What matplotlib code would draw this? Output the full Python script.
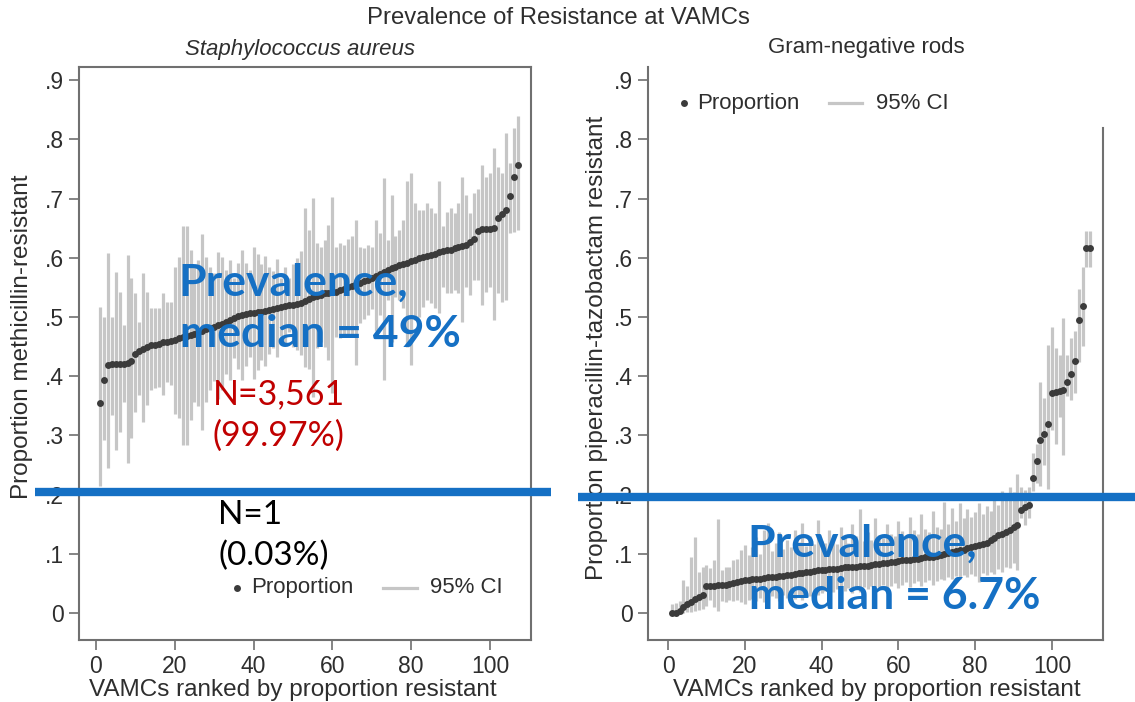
import numpy as np
import matplotlib
matplotlib.use("Agg")
import matplotlib.pyplot as plt
from matplotlib.lines import Line2D

# ---------------------------------------------------------------------------
# Data: VAMC-level proportion resistant with 95% confidence intervals,
# ranked from lowest to highest within each organism group.
# ---------------------------------------------------------------------------
staph_prop = [
    0.355, 0.393, 0.419, 0.420, 0.420, 0.421, 0.421, 0.422, 0.425, 0.438,
    0.443, 0.446, 0.449, 0.452, 0.453, 0.455, 0.457, 0.458, 0.459, 0.461,
    0.464, 0.466, 0.468, 0.470, 0.472, 0.474, 0.476, 0.479, 0.481, 0.483,
    0.486, 0.489, 0.492, 0.495, 0.498, 0.502, 0.504, 0.505, 0.506, 0.507,
    0.508, 0.509, 0.510, 0.511, 0.513, 0.515, 0.517, 0.519, 0.520, 0.521,
    0.522, 0.524, 0.527, 0.530, 0.533, 0.536, 0.538, 0.540, 0.541, 0.542,
    0.543, 0.545, 0.547, 0.550, 0.553, 0.556, 0.558, 0.561, 0.563, 0.566,
    0.570, 0.573, 0.576, 0.579, 0.582, 0.585, 0.588, 0.590, 0.592, 0.594,
    0.597, 0.599, 0.601, 0.603, 0.605, 0.607, 0.609, 0.611, 0.613, 0.614,
    0.616, 0.618, 0.620, 0.622, 0.626, 0.632, 0.646, 0.648, 0.648, 0.649,
    0.650, 0.668, 0.674, 0.680, 0.704, 0.737, 0.756,
]
staph_lo = [
    0.215, 0.292, 0.245, 0.334, 0.275, 0.306, 0.357, 0.253, 0.296, 0.340,
    0.368, 0.323, 0.351, 0.377, 0.380, 0.382, 0.368, 0.390, 0.385, 0.336,
    0.329, 0.284, 0.284, 0.326, 0.356, 0.350, 0.309, 0.356, 0.377, 0.392,
    0.362, 0.376, 0.404, 0.394, 0.430, 0.413, 0.394, 0.418, 0.433, 0.396,
    0.410, 0.428, 0.417, 0.437, 0.448, 0.432, 0.468, 0.453, 0.474, 0.450,
    0.444, 0.436, 0.416, 0.413, 0.365, 0.447, 0.457, 0.450, 0.427, 0.371,
    0.467, 0.465, 0.472, 0.468, 0.470, 0.419, 0.490, 0.496, 0.504, 0.513,
    0.476, 0.504, 0.394, 0.528, 0.458, 0.534, 0.529, 0.516, 0.450, 0.419,
    0.495, 0.500, 0.517, 0.529, 0.523, 0.515, 0.507, 0.551, 0.540, 0.540,
    0.546, 0.540, 0.492, 0.551, 0.537, 0.562, 0.562, 0.520, 0.543, 0.551,
    0.495, 0.540, 0.526, 0.529, 0.642, 0.644, 0.647,
]
staph_hi = [
    0.517, 0.500, 0.608, 0.500, 0.576, 0.543, 0.486, 0.605, 0.566, 0.540,
    0.492, 0.574, 0.543, 0.515, 0.515, 0.515, 0.540, 0.526, 0.526, 0.584,
    0.602, 0.654, 0.654, 0.613, 0.588, 0.597, 0.641, 0.602, 0.585, 0.574,
    0.610, 0.602, 0.580, 0.596, 0.566, 0.591, 0.614, 0.592, 0.579, 0.618,
    0.606, 0.590, 0.603, 0.585, 0.578, 0.598, 0.566, 0.585, 0.566, 0.590,
    0.600, 0.612, 0.684, 0.647, 0.701, 0.625, 0.619, 0.630, 0.655, 0.703,
    0.619, 0.625, 0.622, 0.632, 0.636, 0.664, 0.619, 0.616, 0.622, 0.619,
    0.664, 0.642, 0.735, 0.630, 0.706, 0.636, 0.647, 0.664, 0.729, 0.743,
    0.692, 0.680, 0.681, 0.692, 0.684, 0.675, 0.729, 0.653, 0.678, 0.684,
    0.675, 0.692, 0.736, 0.706, 0.675, 0.709, 0.717, 0.757, 0.737, 0.743,
    0.785, 0.754, 0.743, 0.810, 0.760, 0.819, 0.840,
]

gnr_prop = [
    0.000, 0.000, 0.003, 0.010, 0.015, 0.019, 0.023, 0.027, 0.031, 0.045,
    0.046, 0.046, 0.047, 0.047, 0.047, 0.049, 0.051, 0.053, 0.054, 0.055,
    0.056, 0.057, 0.057, 0.058, 0.059, 0.060, 0.060, 0.061, 0.062, 0.063,
    0.064, 0.065, 0.066, 0.067, 0.068, 0.069, 0.070, 0.071, 0.072, 0.072,
    0.073, 0.074, 0.075, 0.075, 0.076, 0.077, 0.077, 0.078, 0.078, 0.079,
    0.080, 0.080, 0.081, 0.082, 0.083, 0.084, 0.085, 0.086, 0.087, 0.088,
    0.089, 0.089, 0.090, 0.091, 0.092, 0.093, 0.094, 0.094, 0.095, 0.096,
    0.098, 0.100, 0.101, 0.103, 0.104, 0.106, 0.107, 0.109, 0.111, 0.113,
    0.115, 0.117, 0.119, 0.123, 0.127, 0.131, 0.134, 0.137, 0.141, 0.145,
    0.149, 0.174, 0.179, 0.183, 0.228, 0.256, 0.292, 0.302, 0.320, 0.371,
    0.373, 0.375, 0.376, 0.391, 0.404, 0.426, 0.495, 0.519, 0.617, 0.617,
]
gnr_lo = [
    0.000, 0.000, 0.000, 0.000, 0.001, 0.002, 0.003, 0.005, 0.006, 0.012,
    0.022, 0.010, 0.004, 0.020, 0.018, 0.022, 0.020, 0.022, 0.018, 0.016,
    0.022, 0.024, 0.020, 0.026, 0.018, 0.022, 0.028, 0.025, 0.020, 0.030,
    0.026, 0.032, 0.024, 0.030, 0.022, 0.034, 0.028, 0.036, 0.030, 0.034,
    0.038, 0.030, 0.036, 0.040, 0.032, 0.038, 0.042, 0.034, 0.040, 0.036,
    0.044, 0.040, 0.046, 0.036, 0.044, 0.048, 0.040, 0.046, 0.050, 0.042,
    0.048, 0.052, 0.044, 0.050, 0.054, 0.046, 0.052, 0.056, 0.048, 0.054,
    0.058, 0.056, 0.060, 0.057, 0.062, 0.058, 0.064, 0.060, 0.066, 0.062,
    0.052, 0.068, 0.064, 0.070, 0.066, 0.074, 0.069, 0.078, 0.076, 0.084,
    0.072, 0.160, 0.148, 0.160, 0.206, 0.220, 0.215, 0.250, 0.209, 0.309,
    0.285, 0.331, 0.267, 0.366, 0.360, 0.372, 0.424, 0.451, 0.584, 0.584,
]
gnr_hi = [
    0.016, 0.017, 0.020, 0.056, 0.045, 0.095, 0.129, 0.070, 0.078, 0.081,
    0.076, 0.089, 0.158, 0.073, 0.078, 0.078, 0.089, 0.092, 0.106, 0.115,
    0.098, 0.112, 0.128, 0.100, 0.140, 0.152, 0.104, 0.118, 0.137, 0.108,
    0.124, 0.112, 0.140, 0.120, 0.152, 0.114, 0.130, 0.116, 0.157, 0.122,
    0.118, 0.140, 0.128, 0.116, 0.146, 0.126, 0.118, 0.150, 0.130, 0.175,
    0.122, 0.136, 0.124, 0.160, 0.132, 0.126, 0.150, 0.134, 0.130, 0.156,
    0.138, 0.130, 0.162, 0.140, 0.134, 0.168, 0.142, 0.136, 0.172, 0.146,
    0.142, 0.188, 0.150, 0.178, 0.155, 0.186, 0.160, 0.175, 0.162, 0.170,
    0.186, 0.168, 0.180, 0.172, 0.192, 0.182, 0.206, 0.195, 0.212, 0.205,
    0.235, 0.213, 0.208, 0.213, 0.270, 0.285, 0.390, 0.363, 0.453, 0.483,
    0.448, 0.436, 0.499, 0.436, 0.465, 0.477, 0.547, 0.584, 0.645, 0.645,
]

x_ticks = [0, 20, 40, 60, 80, 100]
y_ticks = [0, 0.1, 0.2, 0.3, 0.4, 0.5, 0.6, 0.7, 0.8, 0.9]
y_tick_labels = ["0", ".1", ".2", ".3", ".4", ".5", ".6", ".7", ".8", ".9"]

# ---------------------------------------------------------------------------
# Figure layout (pixel based helpers)
# ---------------------------------------------------------------------------
W, H = 1135, 702
plt.rcParams["font.family"] = ["Liberation Sans", "DejaVu Sans"]
fig = plt.figure(figsize=(W / 100, H / 100), dpi=100)
fig.patch.set_facecolor("white")


def fx(px):
    return px / W


def fy(py):
    return 1 - py / H


TOP, BOTTOM = 67, 640
ax1 = fig.add_axes([fx(79), fy(BOTTOM), (531 - 79) / W, (BOTTOM - TOP) / H])
ax2 = fig.add_axes([fx(648), fy(BOTTOM), (1103 - 648) / W, (BOTTOM - TOP) / H])

YLIM = (-0.0456, 0.9223)
SPINE = "#707070"
TXT = "#2e2e2e"
DOT = "#3b3b3b"
CI = "#c6c6c6"
BLUE = "#1570c4"


def draw_panel(ax, prop, lo, hi, xlim, ylabel):
    rank = np.arange(1, len(prop) + 1)
    ax.vlines(rank, lo, hi, color=CI, linewidth=2.3, zorder=2)
    ax.plot(rank, prop, "o", color=DOT, markersize=5, markeredgewidth=0, zorder=3)
    ax.set_xlim(*xlim)
    ax.set_ylim(*YLIM)
    ax.set_xticks(x_ticks)
    ax.set_yticks(y_ticks)
    ax.set_yticklabels(y_tick_labels)
    ax.tick_params(direction="out", length=7, width=1.2, color=SPINE,
                   labelsize=16.5, labelcolor=TXT, pad=4)
    for s in ax.spines.values():
        s.set_color(SPINE)
        s.set_linewidth(1.5)
    ax.set_xlabel("VAMCs ranked by proportion resistant", fontsize=17.5, color=TXT)
    ax.set_ylabel(ylabel, fontsize=17.5, color=TXT)


draw_panel(ax1, staph_prop, staph_lo, staph_hi, (-4.31, 110.4),
           "Proportion methicillin-resistant")
draw_panel(ax2, gnr_prop, gnr_lo, gnr_hi, (-5.21, 113.3),
           "Proportion piperacillin-tazobactam resistant")

ax1.xaxis.set_label_coords(0.473, -0.068)
ax2.xaxis.set_label_coords(0.503, -0.068)
ax1.yaxis.set_label_coords(-0.102, 0.53)
ax2.yaxis.set_label_coords(-0.088, 0.51)

# right panel: open top, right edge only partly drawn
ax2.spines["top"].set_visible(False)
ax2.spines["right"].set_bounds(YLIM[0], 0.82)


def legend_keys(ax, dot_x, text_x, line_x0, line_x1, ci_x, y):
    tr = ax.transAxes
    ax.plot([dot_x], [y], "o", color=DOT, markersize=5, markeredgewidth=0,
            transform=tr, clip_on=False)
    ax.text(text_x, y, "Proportion", transform=tr, fontsize=16, color=TXT,
            va="center", ha="left")
    ax.plot([line_x0, line_x1], [y, y], color=CI, linewidth=2.3, transform=tr,
            clip_on=False)
    ax.text(ci_x, y, "95% CI", transform=tr, fontsize=16, color=TXT,
            va="center", ha="left")


legend_keys(ax1, 0.3496, 0.3805, 0.6726, 0.7478, 0.7765, 0.0908)
legend_keys(ax2, 0.0791, 0.1077, 0.3978, 0.4703, 0.5011, 0.937)

# titles
fig.text(fx(558), fy(18), "Prevalence of Resistance at VAMCs", fontsize=17.2,
         color=TXT, ha="center", va="center")
fig.text(fx(300), fy(50), "Staphylococcus aureus", fontsize=16, style="italic",
         color=TXT, ha="center", va="center")
fig.text(fx(866), fy(48), "Gram-negative rods", fontsize=16,
         color=TXT, ha="center", va="center")

# threshold bars across each panel
fig.add_artist(Line2D([fx(35), fx(551)], [fy(492), fy(492)], color=BLUE,
                      linewidth=6, solid_capstyle="butt"))
fig.add_artist(Line2D([fx(578), fx(1135)], [fy(497), fy(497)], color=BLUE,
                      linewidth=6, solid_capstyle="butt"))

# annotations
ANN = ["Lato", "DejaVu Sans"]


def note(px, py, s, size, color, weight="normal"):
    fig.text(fx(px), fy(py), s, fontsize=size, color=color, fontweight=weight,
             family=ANN, ha="left", va="baseline")


note(178, 296, "Prevalence,", 32, BLUE, "bold")
note(180, 347, "median = 49%", 32, BLUE, "bold")
note(213, 404, "N=3,561", 24.5, "#c00000")
note(213, 446, "(99.97%)", 24.5, "#c00000")
note(218, 524, "N=1", 24, "black")
note(218, 565, "(0.03%)", 24, "black")
note(747, 557, "Prevalence,", 32, BLUE, "bold")
note(749, 609, "median = 6.7%", 32, BLUE, "bold")

fig.savefig("out.png", dpi=100)
